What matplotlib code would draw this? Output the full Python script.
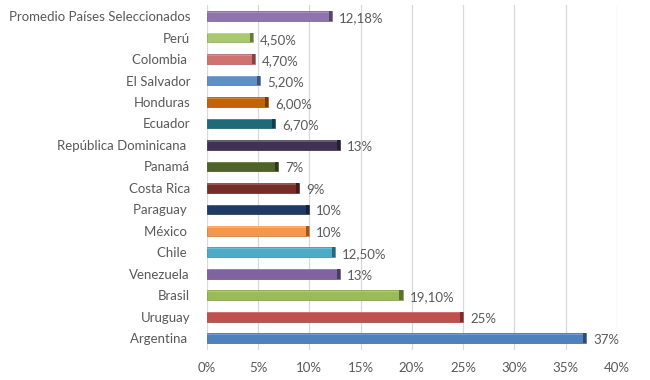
import numpy as np
import matplotlib
import matplotlib.pyplot as plt
from matplotlib.ticker import FuncFormatter

matplotlib.use('Agg')

# data, bottom to top
countries = ['Argentina ', 'Uruguay', 'Brasil', 'Venezuela', 'Chile ', 'México ',
             'Paraguay ', 'Costa Rica', 'Panamá', 'República Dominicana ', 'Ecuador',
             'Honduras', 'El Salvador', 'Colombia ', 'Perú', 'Promedio Países Seleccionados']
values = [37, 25, 19.1, 13, 12.5, 10, 10, 9, 7, 13, 6.7, 6.0, 5.2, 4.7, 4.5, 12.18]
value_labels = ['37%', '25%', '19,10%', '13%', '12,50%', '10%', '10%', '9%', '7%', '13%',
                '6,70%', '6,00%', '5,20%', '4,70%', '4,50%', '12,18%']
colors = ['#4F81BD', '#C0504D', '#9BBB59', '#8064A2', '#4BACC6', '#F79646',
          '#1F3B63', '#772C2A', '#4F6228', '#3F3151', '#1F6A78', '#C0640A',
          '#5F8FC9', '#D07370', '#A9C96E', '#8E73AE']

text_color = '#595959'
plt.rcParams['font.family'] = ['Lato', 'DejaVu Sans']


def darker(c, f=0.7):
    rgb = np.array(matplotlib.colors.to_rgb(c))
    return tuple(rgb * f)


def lighter(c, f=0.2):
    rgb = np.array(matplotlib.colors.to_rgb(c))
    return tuple(rgb + (1 - rgb) * f)


fig = plt.figure(figsize=(6.5, 3.8), dpi=100)
ax = fig.add_axes([0.318, 0.079, 0.631, 0.908])

y = np.arange(len(countries))
h = 0.45

# flat bars with a thin light top edge and a darker end cap for the 3d look
ax.barh(y, values, height=h, color=colors, edgecolor=[darker(c, 0.8) for c in colors],
        linewidth=0.5, zorder=3)
ax.barh(y + h * 0.4, values, height=h * 0.12, color=[lighter(c) for c in colors],
        linewidth=0, zorder=4)
ax.barh(y, [0.3] * len(values), left=np.array(values) - 0.3, height=h,
        color=[darker(c, 0.6) for c in colors], linewidth=0, zorder=5)

for yi, v, lab in zip(y, values, value_labels):
    ax.annotate(lab, (v, yi), xytext=(5, -1.5), textcoords='offset points',
                va='center', ha='left', fontsize=9.5, color=text_color)

ax.set_xlim(0, 40)
ax.set_ylim(-0.55, 15.52)
ax.set_xticks(np.arange(0, 41, 5))
ax.xaxis.set_major_formatter(FuncFormatter(lambda v, p: f'{v:.0f}%'))
ax.set_yticks(y)
ax.set_yticklabels(countries)
ax.tick_params(axis='both', length=0, colors=text_color, labelsize=9.5)
ax.tick_params(axis='y', pad=12)
ax.tick_params(axis='x', pad=9)
ax.grid(axis='x', color='#D9D9D9', linewidth=0.9, zorder=0)
for s in ax.spines.values():
    s.set_visible(False)

fig.savefig('out.png', dpi=100)
